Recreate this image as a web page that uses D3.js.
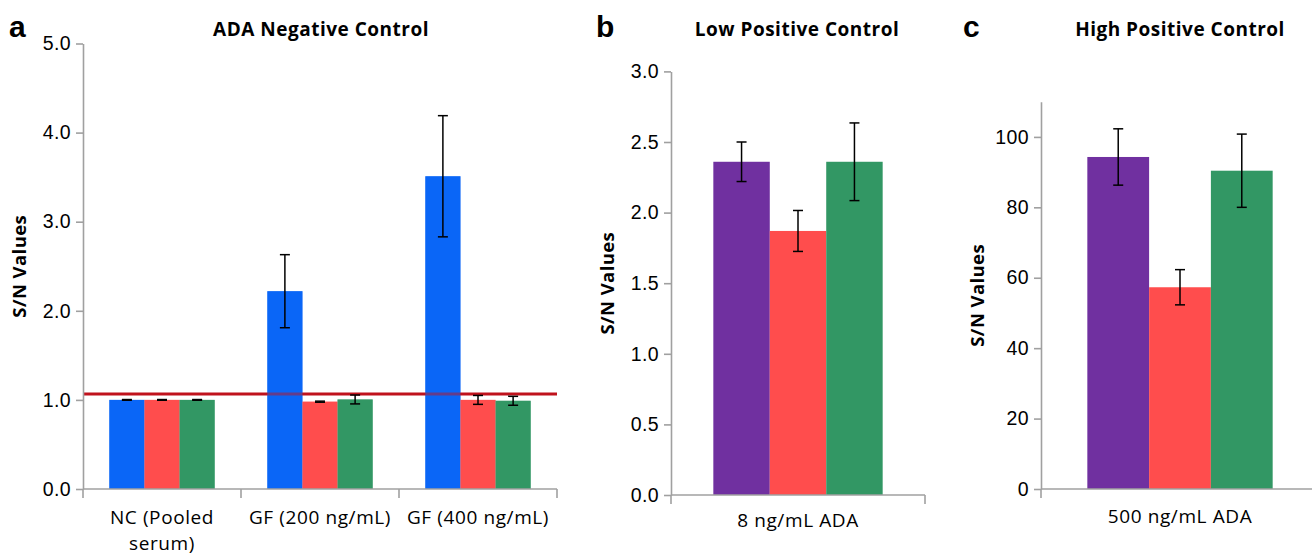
<!DOCTYPE html>
<html>
<head>
<meta charset="utf-8">
<script src="https://cdn.jsdelivr.net/npm/d3@7"></script>
<style>
  body { margin: 0; background: #fff; }
  svg { display: block; font-family: "Open Sans", sans-serif; }
  .tick text { font-size: 19.5px; fill: #000; letter-spacing: 0.4px; }
  .domain, .tick line { stroke: #a0a0a0; stroke-width: 1.6px; }
</style>
</head>
<body>
<div id="chart"></div>
<script>
// Panel a: ADA negative control
const catsA = ["NC", "GF200", "GF400"];
const catLabelsA = [["NC (Pooled", "serum)"], ["GF (200 ng/mL)"], ["GF (400 ng/mL)"]];
const blueA = [1.00, 2.22, 3.51];
const blueErrA = [0.004, 0.41, 0.68];
const redA = [1.00, 0.98, 1.00];
const redErrA = [0.004, 0.006, 0.05];
const greenA = [1.00, 1.005, 0.99];
const greenErrA = [0.004, 0.05, 0.05];
const cutoffA = 1.065;
const ticksA = [0, 1, 2, 3, 4, 5];

// Panel b: low positive control
const catsB = ["8 ng/mL ADA"];
const purpleB = [2.36];
const purpleErrB = [0.14];
const redB = [1.87];
const redErrB = [0.145];
const greenB = [2.36];
const greenErrB = [0.275];
const ticksB = [0, 0.5, 1, 1.5, 2, 2.5, 3];

// Panel c: high positive control
const catsC = ["500 ng/mL ADA"];
const purpleC = [94.3];
const purpleErrC = [8.0];
const redC = [57.3];
const redErrC = [5.0];
const greenC = [90.4];
const greenErrC = [10.4];
const ticksC = [0, 20, 40, 60, 80, 100];

const BLUE = "#0a66f7", RED = "#ff4d4d", GREEN = "#329764", PURPLE = "#7030a0";

const svg = d3.select("#chart").append("svg")
  .attr("width", 1312)
  .attr("height", 555);

function drawPanel(p) {
  const g = svg.append("g");

  const x = d3.scaleBand().domain(p.cats).range([p.left, p.right]);
  const inner = d3.scaleBand().domain(d3.range(p.series.length))
    .range([x.bandwidth() / 6, x.bandwidth() * 5 / 6]);
  const y = d3.scaleLinear().domain(p.domain).range([p.bottom, p.top]);

  // bars
  const rows = [];
  p.series.forEach((s, si) => {
    s.values.forEach((v, ci) => rows.push({ cat: p.cats[ci], si: si, v: v, e: s.errs[ci], color: s.color }));
  });

  g.selectAll("rect.bar").data(rows).enter().append("rect")
    .attr("class", "bar")
    .attr("x", d => x(d.cat) + inner(d.si))
    .attr("width", inner.bandwidth())
    .attr("y", d => y(d.v))
    .attr("height", d => y(0) - y(d.v))
    .attr("fill", d => d.color);

  // cutoff line, bars re-laid on top half transparent so the line shows through
  if (p.cutoff !== undefined) {
    g.append("line")
      .attr("x1", p.left).attr("x2", p.right)
      .attr("y1", y(p.cutoff)).attr("y2", y(p.cutoff))
      .attr("stroke", "#c0121c")
      .attr("stroke-width", 3);
    g.selectAll("rect.over").data(rows).enter().append("rect")
      .attr("class", "over")
      .attr("x", d => x(d.cat) + inner(d.si))
      .attr("width", inner.bandwidth())
      .attr("y", d => y(d.v))
      .attr("height", d => y(0) - y(d.v))
      .attr("fill", d => d.color)
      .attr("opacity", 0.5);
  }

  // error bars
  const cap = 5;
  const eb = g.selectAll("g.err").data(rows).enter().append("g")
    .attr("class", "err")
    .attr("transform", d => "translate(" + (x(d.cat) + inner(d.si) + inner.bandwidth() / 2) + ",0)")
    .attr("stroke", "#000")
    .attr("stroke-width", 1.5);
  eb.append("line").attr("y1", d => y(d.v + d.e)).attr("y2", d => y(d.v - d.e));
  eb.append("line").attr("x1", -cap).attr("x2", cap).attr("y1", d => y(d.v + d.e)).attr("y2", d => y(d.v + d.e));
  eb.append("line").attr("x1", -cap).attr("x2", cap).attr("y1", d => y(d.v - d.e)).attr("y2", d => y(d.v - d.e));

  // y axis
  g.append("g")
    .attr("transform", "translate(" + p.left + ",0)")
    .call(d3.axisLeft(y).tickValues(p.ticks).tickFormat(p.fmt).tickSize(7).tickPadding(5).tickSizeOuter(0));

  // x axis: ticks on category boundaries
  const xa = g.append("g").attr("transform", "translate(0," + p.bottom + ")");
  xa.append("line")
    .attr("x1", p.left).attr("x2", p.right)
    .attr("stroke", "#a0a0a0").attr("stroke-width", 1.6);
  const bounds = p.cats.map(c => x(c)).concat([p.right]).filter(v => v <= 1312);
  xa.selectAll("line.bt").data(bounds).enter().append("line")
    .attr("class", "bt")
    .attr("x1", d => d).attr("x2", d => d)
    .attr("y1", 0).attr("y2", 9)
    .attr("stroke", "#a0a0a0").attr("stroke-width", 1.6);

  p.catLabels.forEach((lines, i) => {
    const t = g.append("text")
      .attr("x", x(p.cats[i]) + x.bandwidth() / 2)
      .attr("y", p.labelY)
      .attr("text-anchor", "middle")
      .style("font-size", "19px")
      .style("letter-spacing", "0.6px")
      .attr("fill", "#000");
    lines.forEach((l, li) => {
      t.append("tspan")
        .attr("x", x(p.cats[i]) + x.bandwidth() / 2)
        .attr("dy", li === 0 ? 0 : 26)
        .text(l);
    });
  });

  // y label
  g.append("text")
    .attr("transform", "translate(" + (p.left - 63) + "," + ((p.top + p.bottom) / 2) + ") rotate(-90)")
    .attr("text-anchor", "middle")
    .attr("dy", "0.35em")
    .style("font-size", "18.5px")
    .style("font-weight", "bold")
    .style("letter-spacing", "0.4px")
    .text("S/N Values");

  // title and panel letter
  g.append("text")
    .attr("x", p.titleX).attr("y", 36)
    .attr("text-anchor", "middle")
    .style("font-size", "19px")
    .style("font-weight", "bold")
    .style("letter-spacing", "0.5px")
    .text(p.title);

  g.append("text")
    .attr("x", p.letterX).attr("y", 37)
    .style("font-family", "'Liberation Sans', Arial, sans-serif")
    .style("font-size", "30px")
    .style("font-weight", "bold")
    .text(p.letter);
}

drawPanel({
  cats: catsA, catLabels: catLabelsA,
  series: [
    { values: blueA, errs: blueErrA, color: BLUE },
    { values: redA, errs: redErrA, color: RED },
    { values: greenA, errs: greenErrA, color: GREEN }
  ],
  cutoff: cutoffA,
  domain: [0, 5], ticks: ticksA, fmt: d3.format(".1f"),
  left: 83, right: 557, bottom: 489, top: 43.5,
  labelY: 524, title: "ADA Negative Control", titleX: 321,
  letter: "a", letterX: 9
});

drawPanel({
  cats: catsB, catLabels: catsB.map(c => [c]),
  series: [
    { values: purpleB, errs: purpleErrB, color: PURPLE },
    { values: redB, errs: redErrB, color: RED },
    { values: greenB, errs: greenErrB, color: GREEN }
  ],
  domain: [0, 3], ticks: ticksB, fmt: d3.format(".1f"),
  left: 671, right: 925, bottom: 495, top: 71.4,
  labelY: 527, title: "Low Positive Control", titleX: 797,
  letter: "b", letterX: 596
});

drawPanel({
  cats: catsC, catLabels: catsC.map(c => [c]),
  series: [
    { values: purpleC, errs: purpleErrC, color: PURPLE },
    { values: redC, errs: redErrC, color: RED },
    { values: greenC, errs: greenErrC, color: GREEN }
  ],
  domain: [0, 110], ticks: ticksC, fmt: d3.format("d"),
  left: 1041, right: 1319, bottom: 489, top: 101.7,
  labelY: 523, title: "High Positive Control", titleX: 1180,
  letter: "c", letterX: 963
});
</script>
</body>
</html>
